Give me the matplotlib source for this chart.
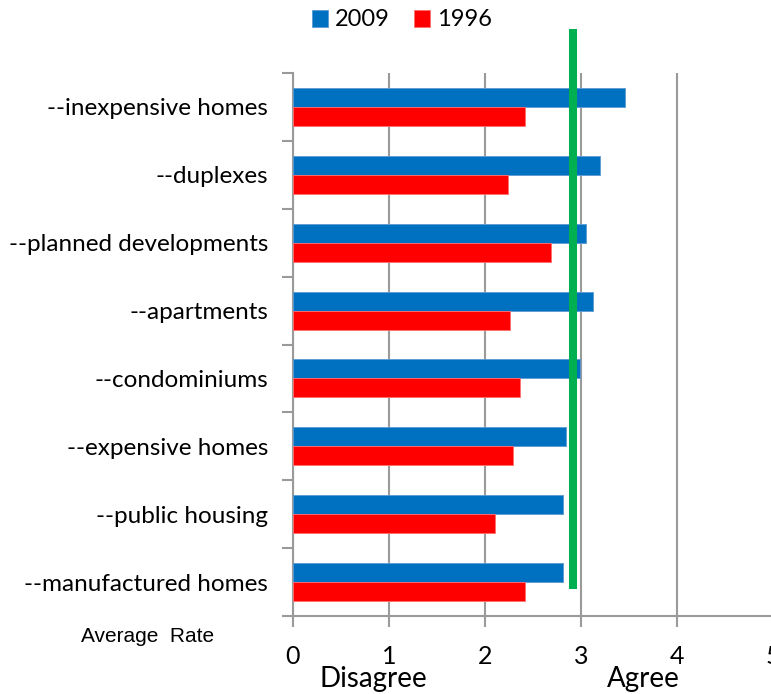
import numpy as np
import matplotlib.pyplot as plt
from matplotlib.ticker import FixedLocator

categories = ["--inexpensive homes", "--duplexes", "--planned developments",
              "--apartments", "--condominiums", "--expensive homes",
              "--public housing", "--manufactured homes"]
v2009 = [3.46, 3.20, 3.05, 3.12, 2.99, 2.84, 2.81, 2.81]
v1996 = [2.42, 2.24, 2.69, 2.26, 2.36, 2.29, 2.10, 2.42]
neutral = 2.92
xticks = [0, 1, 2, 3, 4, 5]

font = ["Lato", "DejaVu Sans"]
grey = "#9a9a9a"

fig = plt.figure(figsize=(7.71, 6.94), dpi=100)
ax = fig.add_axes([293/771, 1-616/694, 480/771, 543/694])

n = len(categories)
y = np.arange(n)[::-1]
h = 0.28
ax.barh(y + h/2, v2009, height=h, color="#0070C0", edgecolor="#5b9bd5", linewidth=0.6, label="2009", zorder=3)
ax.barh(y - h/2, v1996, height=h, color="#FF0000", edgecolor="#ff7070", linewidth=0.6, label="1996", zorder=3)

# green reference line, runs above the plot area
ax.plot([neutral, neutral], [-0.1, 8.15], color="#00B050", lw=5.8, solid_capstyle="butt",
        clip_on=False, zorder=4)

ax.set_xlim(0, 5)
ax.set_ylim(-0.5, n - 0.5)
ax.set_xticks(xticks)
ax.set_xticklabels([str(t) for t in xticks], fontsize=18, family=font)
ax.grid(axis="x", color=grey, lw=1.5, zorder=0)
ax.tick_params(axis="x", length=8, width=1.5, color=grey, pad=13)

ax.set_yticks(y)
ax.set_yticklabels(categories, fontsize=17.5, family=font)
ax.yaxis.set_minor_locator(FixedLocator(np.arange(-0.5, n, 1.0)))
ax.tick_params(axis="y", which="major", length=0, pad=18)
ax.tick_params(axis="y", which="minor", length=8, width=1.5, color=grey)

for s in ["top", "right"]:
    ax.spines[s].set_visible(False)
for s in ["left", "bottom"]:
    ax.spines[s].set_color(grey)
    ax.spines[s].set_linewidth(1.5)

fig.legend(loc="center", bbox_to_anchor=(402/771, 1-20/694), ncol=2, frameon=False,
           prop={"family": font, "size": 17}, handlelength=0.7, handleheight=0.7,
           handletextpad=0.3, columnspacing=1.0)

fig.text(148/771, 1-636/694, "Average  Rate", ha="center", va="center",
         fontsize=15, family="Liberation Sans")
fig.text(373/771, 1-679/694, "Disagree", ha="center", va="center", fontsize=20, family=font)
fig.text(643/771, 1-679/694, "Agree", ha="center", va="center", fontsize=20, family=font)

fig.savefig("out.png", dpi=100)
